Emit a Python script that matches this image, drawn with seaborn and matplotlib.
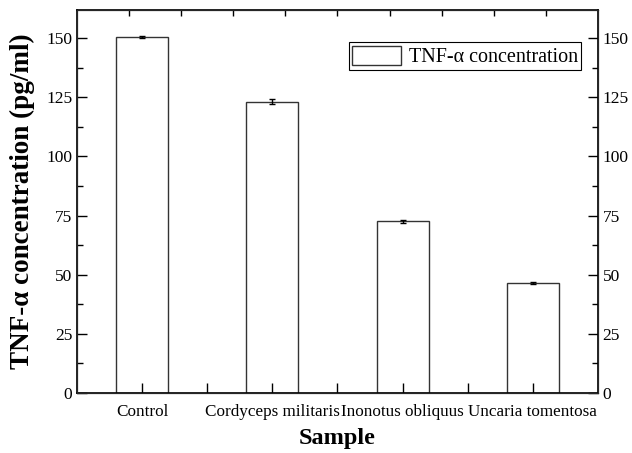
import matplotlib
matplotlib.use("Agg")
import matplotlib.pyplot as plt
import seaborn as sns
import pandas as pd
import numpy as np
from matplotlib.ticker import MultipleLocator, FixedLocator

sns.set_style("ticks")
plt.rcParams['font.family'] = ['Liberation Serif', 'DejaVu Serif']
plt.rcParams.update({"text.color": "black", "axes.labelcolor": "black",
                     "xtick.color": "black", "ytick.color": "black"})

categories = ["Control", "Cordyceps militaris", "Inonotus obliquus", "Uncaria tomentosa"]
values = [150.7, 123.2, 72.5, 46.4]
errors = [0.4, 1.2, 0.6, 0.3]
yticks = [0, 25, 50, 75, 100, 125, 150]
series_name = "TNF-α concentration"

df = pd.DataFrame({"Sample": categories, "value": values})

fig = plt.figure(figsize=(6.32, 4.53), dpi=100)
ax = fig.add_axes([0.1223, 0.1331, 0.8234, 0.8449])

sns.barplot(data=df, x="Sample", y="value", ax=ax, width=0.4, color="white",
            edgecolor="#333333", linewidth=1.0, errorbar=None, label=series_name)
ax.errorbar(np.arange(len(values)), values, yerr=errors, fmt="none",
            ecolor="black", elinewidth=1.0, capsize=2.5, capthick=1.0)

ax.set_xlim(-0.5, 3.5)
ax.set_ylim(0, 162)
ax.set_xticks(np.arange(len(categories)))
ax.set_xticklabels(categories)
ax.set_axisbelow(False)
ax.yaxis.set_major_locator(FixedLocator(yticks))
ax.yaxis.set_minor_locator(MultipleLocator(12.5))
ax.xaxis.set_minor_locator(FixedLocator([0.5, 1.5, 2.5]))
ax.tick_params(axis="both", which="both", direction="in", labelsize=12.5, width=1.0)
ax.tick_params(axis="x", which="major", labelsize=12.3)
ax.tick_params(axis="y", which="major", length=7)
ax.tick_params(axis="y", which="minor", length=4)
ax.tick_params(axis="x", which="major", length=7, pad=8)
ax.tick_params(axis="x", which="minor", length=7)

for s in ax.spines.values():
    s.set_linewidth(1.2)
    s.set_color("black")

# right axis
axr = ax.twinx()
axr.set_ylim(ax.get_ylim())
axr.yaxis.set_major_locator(FixedLocator(yticks))
axr.yaxis.set_minor_locator(MultipleLocator(12.5))
axr.tick_params(axis="y", which="both", direction="in", labelsize=12.5, width=1.0)
axr.tick_params(axis="y", which="major", length=7)
axr.tick_params(axis="y", which="minor", length=4)

# top axis ticks
axt = ax.twiny()
axt.set_xlim(ax.get_xlim())
axt.xaxis.set_major_locator(FixedLocator(np.arange(-0.1, 3.2, 0.4)))
axt.tick_params(axis="x", which="major", direction="in", length=4, width=1.0, labeltop=False)

ax.set_xlabel("Sample", fontsize=17.5, fontweight="bold", labelpad=6)
ax.set_ylabel("TNF-α concentration (pg/ml)", fontsize=19.5, fontweight="bold", labelpad=8)

leg = ax.legend(loc="upper right", bbox_to_anchor=(0.968, 0.915), fontsize=14.5,
                frameon=True, fancybox=False, edgecolor="black", framealpha=1,
                handlelength=2.4, handleheight=1.1, borderpad=0.15, borderaxespad=0,
                handletextpad=0.4)
leg.get_frame().set_linewidth(0.8)

fig.savefig("out.png", dpi=100)
